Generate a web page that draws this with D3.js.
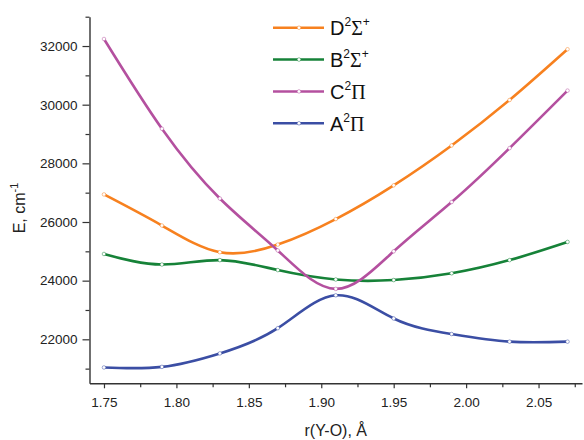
<!DOCTYPE html>
<html>
<head>
<meta charset="utf-8">
<script src="https://cdn.jsdelivr.net/npm/d3@7"></script>
<style>
  body { margin: 0; background: #fff; }
  svg { display: block; font-family: "Liberation Sans", Arial, sans-serif; }
</style>
</head>
<body>
<svg id="chart" width="584" height="440"></svg>
<script>
const rValues = [1.75, 1.79, 1.83, 1.87, 1.91, 1.95, 1.99, 2.03, 2.07];
const seriesD = [26940, 25880, 24970, 25230, 26100, 27250, 28610, 30160, 31890];
const seriesB = [24910, 24550, 24700, 24360, 24040, 24020, 24250, 24700, 25320];
const seriesC = [32240, 29180, 26800, 25030, 23720, 25000, 26680, 28520, 30480];
const seriesA = [21040, 21060, 21520, 22380, 23500, 22710, 22180, 21920, 21920];
const xTicks = [1.75, 1.80, 1.85, 1.90, 1.95, 2.00, 2.05];
const xMinorTicks = [1.775, 1.825, 1.875, 1.925, 1.975, 2.025, 2.075];
const yTicks = [22000, 24000, 26000, 28000, 30000, 32000];
const yMinorTicks = [21000, 23000, 25000, 27000, 29000, 31000, 33000];
const legendNames = [
  {letter: "D", sym: "Σ", sup2: "+"},
  {letter: "B", sym: "Σ", sup2: "+"},
  {letter: "C", sym: "Π", sup2: ""},
  {letter: "A", sym: "Π", sup2: ""}
];

const series = [
  {name: "D", values: seriesD, color: "#F7811F"},
  {name: "B", values: seriesB, color: "#168238"},
  {name: "C", values: seriesC, color: "#B4509F"},
  {name: "A", values: seriesA, color: "#3B4EA4"}
];

const svg = d3.select("#chart");
const pLeft = 89.5, pRight = 582, pTop = 16.7, pBottom = 383.3;
const x = d3.scaleLinear().domain([1.74, 2.08]).range([pLeft, pRight]);
const y = d3.scaleLinear().domain([20500, 33000]).range([pBottom, pTop]);
const axisColor = "#333";

// X axis
const gx = svg.append("g").attr("transform", `translate(0,${pBottom})`);
gx.call(d3.axisBottom(x).tickValues(xTicks).tickFormat(d3.format(".2f")).tickSize(5).tickSizeOuter(0).tickPadding(9));
gx.append("g").call(d3.axisBottom(x).tickValues(xMinorTicks).tickFormat("").tickSize(4).tickSizeOuter(0))
  .select(".domain").remove();
// Y axis
const gy = svg.append("g").attr("transform", `translate(${pLeft},0)`);
gy.call(d3.axisLeft(y).tickValues(yTicks).tickFormat(d3.format("d")).tickSize(7).tickSizeOuter(0).tickPadding(5));
gy.append("g").call(d3.axisLeft(y).tickValues(yMinorTicks).tickFormat("").tickSize(4).tickSizeOuter(0))
  .select(".domain").remove();

svg.selectAll(".domain").attr("stroke", axisColor).attr("stroke-width", 1.4);
svg.selectAll(".tick line").attr("stroke", axisColor).attr("stroke-width", 1.2);
svg.selectAll(".tick text").attr("fill", "#222").style("font-size", "13.5px")
  .style("font-family", "'Liberation Sans', Arial, sans-serif");

// Axis titles
svg.append("text")
  .attr("x", (pLeft + pRight) / 2).attr("y", 436)
  .attr("text-anchor", "middle")
  .style("font-size", "16px").attr("fill", "#222")
  .text("r(Y-O), Å");

const yt = svg.append("text")
  .attr("transform", "translate(25,208) rotate(-90)")
  .attr("text-anchor", "middle")
  .style("font-size", "16px").attr("fill", "#222");
yt.append("tspan").text("E, cm");
yt.append("tspan").attr("dy", -7).style("font-size", "11px").text("-1");

// Lines
const line = d3.line()
  .x((d, i) => x(rValues[i]))
  .y(d => y(d))
  .curve(d3.curveNatural);

series.forEach(s => {
  svg.append("path")
    .datum(s.values)
    .attr("fill", "none")
    .attr("stroke", s.color)
    .attr("stroke-width", 2.6)
    .attr("d", line);
});
series.forEach(s => {
  svg.append("g").selectAll("circle")
    .data(s.values)
    .join("circle")
    .attr("cx", (d, i) => x(rValues[i]))
    .attr("cy", d => y(d))
    .attr("r", 1.8)
    .attr("fill", "#fff")
    .attr("stroke", s.color)
    .attr("stroke-opacity", 0.6)
    .attr("stroke-width", 0.8);
});

// Legend
const legendRowY = d3.scaleLinear().domain([0, 3]).range([27.7, 123.3]);
series.forEach((s, i) => {
  const yy = legendRowY(i);
  const g = svg.append("g");
  g.append("line").attr("x1", 273).attr("x2", 324).attr("y1", yy).attr("y2", yy)
    .attr("stroke", s.color).attr("stroke-width", 2.6);
  g.append("circle").attr("cx", 299).attr("cy", yy).attr("r", 1.8)
    .attr("fill", "#fff").attr("stroke", s.color).attr("stroke-opacity", 0.6).attr("stroke-width", 0.8);
  const n = legendNames[i];
  const t = g.append("text").attr("x", 330).attr("y", yy + 7.5)
    .attr("fill", "#111").style("font-size", "20px");
  t.append("tspan").text(n.letter);
  t.append("tspan").attr("dy", -9).style("font-size", "12px").text("2");
  t.append("tspan").attr("dy", 9).style("font-family", "'Liberation Serif', serif").style("font-size", "20px").text(n.sym);
  if (n.sup2) t.append("tspan").attr("dy", -9).style("font-size", "12px").text(n.sup2);
});
</script>
</body>
</html>
